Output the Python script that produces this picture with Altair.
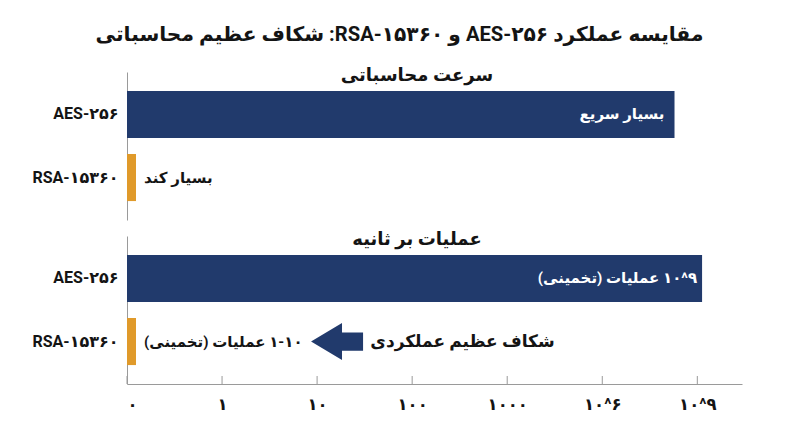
import json
import altair as alt
import pandas as pd

RLE, LRE, PDF = "\u202b", "\u202a", "\u202c"

def rtl(s):
    return RLE + s + PDF

# ---- data ----
categories = ["AES-۲۵۶", "RSA-۱۵۳۶۰"]
panel_titles = ["سرعت محاسباتی", "عملیات بر ثانیه"]
speed_values = [5.76, 0.095]          # position on the stepped (log-like) axis
ops_values = [6.05, 0.095]
speed_labels = ["بسیار سریع", "بسیار کند"]
ops_labels = [LRE + "۱۰^۹" + PDF + " عملیات (تخمینی)", "۱-۱۰ عملیات (تخمینی)"]
tick_values = [0, 1, 2, 3, 4, 5, 6]
tick_labels = ["۰", "۱", "۱۰", "۱۰۰", "۱۰۰۰", "۱۰^۶", "۱۰^۹"]
gap_text = "شکاف عظیم عملکردی"
gap_text_x = [2.56]
gap_arrow_x = [2.21]
title = "مقایسه عملکرد AES-۲۵۶ و RSA-۱۵۳۶۰: شکاف عظیم محاسباتی"

FONT = "Roboto, DejaVu Sans"
NAVY = "#213a6c"
ORANGE = "#e09a2a"
INK = "#141414"
GRAY = "#9a9a9a"
W, H = 615, 148
XMAX = 6.47

label_expr = json.dumps(tick_labels) + "[datum.value]"
xscale = alt.Scale(domain=[0, XMAX], nice=False, zero=True)
yscale = alt.Scale(domain=categories, paddingInner=0.254, paddingOuter=0.30)
yaxis = alt.Axis(title=None, ticks=False, domain=True, domainColor=GRAY,
                 labelFontSize=16, labelFontWeight="bold", labelFont=FONT,
                 labelColor=INK, labelPadding=9, minExtent=114, maxExtent=114)
color = alt.Color("algo:N", scale=alt.Scale(domain=categories, range=[NAVY, ORANGE]), legend=None)


def panel(values, labels, header, show_axis, aes_dx, extra=None):
    df = pd.DataFrame({"algo": categories, "value": values,
                       "label": [rtl(l) for l in labels]})
    if show_axis:
        xaxis = alt.Axis(values=tick_values, labelExpr=label_expr, title=None, grid=False,
                         ticks=False, domainColor=GRAY,
                         labelFontSize=16.5, labelFontWeight="bold", labelFont=FONT,
                         labelColor=INK, labelPadding=12)
    else:
        xaxis = None
    base = alt.Chart(df)
    bars = base.mark_bar().encode(
        x=alt.X("value:Q", scale=xscale, axis=xaxis),
        y=alt.Y("algo:N", scale=yscale, axis=yaxis),
        color=color,
    )
    inside = base.transform_filter(alt.datum.algo == categories[0]).mark_text(
        align="right", baseline="middle", dx=aes_dx, fontSize=15, fontWeight="bold",
        font=FONT, color="white"
    ).encode(x="value:Q", y=alt.Y("algo:N", scale=yscale), text="label:N")
    outside = base.transform_filter(alt.datum.algo == categories[1]).mark_text(
        align="left", baseline="middle", dx=8, fontSize=15, fontWeight="bold",
        font=FONT, color=INK
    ).encode(x="value:Q", y=alt.Y("algo:N", scale=yscale), text="label:N")
    head = alt.Chart(pd.DataFrame({"t": [rtl(header)]})).mark_text(
        align="center", baseline="middle", fontSize=18, fontWeight="bold",
        font=FONT, color=INK
    ).encode(text="t:N", x=alt.value(290), y=alt.value(4))
    layers = [bars, inside, outside, head]
    if show_axis:
        ticks = alt.Chart(pd.DataFrame({"v": tick_values})).mark_rule(
            color=GRAY, strokeWidth=1
        ).encode(x=alt.X("v:Q", scale=xscale), y=alt.value(H - 8), y2=alt.value(H))
        layers.append(ticks)
    if extra:
        layers += extra
    return alt.layer(*layers).properties(width=W, height=H)


arrow_path = "M -1 0 L 0.19 -0.71 L 0.19 -0.35 L 1 -0.35 L 1 0.35 L 0.19 0.35 L 0.19 0.71 Z"
arrow_df = pd.DataFrame({"x": gap_arrow_x, "algo": [categories[1]]})
arrow = alt.Chart(arrow_df).mark_point(
    shape=arrow_path, filled=True, size=52 * 52, color=NAVY, opacity=1, strokeWidth=0
).encode(x=alt.X("x:Q", scale=xscale), y=alt.Y("algo:N", scale=yscale))
gap_df = pd.DataFrame({"x": gap_text_x, "algo": [categories[1]], "t": [rtl(gap_text)]})
gap = alt.Chart(gap_df).mark_text(
    align="left", baseline="middle", fontSize=17, fontWeight="bold", font=FONT, color=INK
).encode(x=alt.X("x:Q", scale=xscale), y=alt.Y("algo:N", scale=yscale), text="t:N")

p1 = panel(speed_values, speed_labels, panel_titles[0], False, -10)
p2 = panel(ops_values, ops_labels, panel_titles[1], True, -5, extra=[arrow, gap])

chart = alt.vconcat(p1, p2, spacing=11).properties(
    title=alt.TitleParams(rtl(title), fontSize=20.2, fontWeight="bold", font=FONT,
                          color=INK, anchor="middle", dx=22, offset=22),
    padding={"left": 5, "top": 16, "right": 5, "bottom": 5},
).configure(background="white").configure_view(stroke=None)

chart.save("out.html", embed_options={"renderer": "svg", "actions": False})
